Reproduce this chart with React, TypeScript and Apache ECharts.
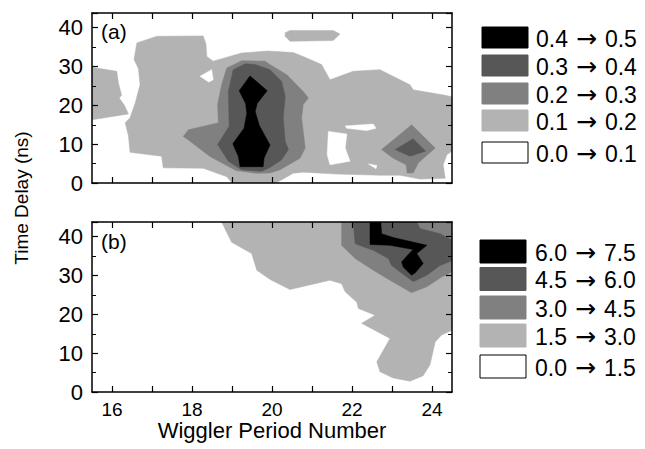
import React, { useEffect, useRef } from "react";
import * as echarts from "echarts";

// ---------- data ----------
const X_MIN = 15.5;
const X_MAX = 24.5;
const Y_MIN = 0;
const Y_MAX = 43.8;
const X_TICKS = [16, 17, 18, 19, 20, 21, 22, 23, 24];
const X_LABELS = [16, 18, 20, 22, 24];
const Y_LABELS = [0, 10, 20, 30, 40];

const LEVEL_COLORS = ["#ffffff", "#b3b3b3", "#808080", "#575757", "#000000"];

const LEGEND_A = ["0.4 \u2192 0.5", "0.3 \u2192 0.4", "0.2 \u2192 0.3", "0.1 \u2192 0.2", "0.0 \u2192 0.1"];
const LEGEND_B = ["6.0 \u2192 7.5", "4.5 \u2192 6.0", "3.0 \u2192 4.5", "1.5 \u2192 3.0", "0.0 \u2192 1.5"];
const LEGEND_LEVELS = [4, 3, 2, 1, 0];

// panel (a) contour polygons [wiggler period, time delay]
const A_L1_LEFT = [[15.5, 29.8], [16.12, 28.8], [16.16, 25.8], [16.24, 22.6], [16.18, 21.9], [16.31, 20.0], [16.41, 17.8], [15.5, 16.3]];
const A_L1_MAIN = [[16.62, 36.1], [17.12, 37.8], [18.28, 37.9], [18.35, 35.8], [18.37, 32.6], [18.53, 31.4], [19.24, 33.5], [19.9, 34.0], [20.53, 33.6], [20.78, 32.6], [21.24, 30.5], [21.45, 26.6], [22.03, 28.8], [22.7, 29.2], [23.45, 25.3], [23.53, 24.0], [24.33, 22.6], [24.5, 22.2], [24.5, 8.2], [24.37, 7.3], [24.28, 4.7], [24.33, 1.2], [23.7, 1.0], [23.2, 2.0], [22.7, 2.0], [21.62, 2.3], [20.78, 2.8], [20.53, 2.5], [20.1, 0], [19.0, 0], [18.87, 1.6], [18.28, 3.8], [17.28, 3.9], [17.24, 6.9], [16.45, 7.9], [16.41, 12.2], [16.33, 15.5], [16.45, 16.8], [16.58, 20.6], [16.7, 25.3], [16.66, 29.5], [16.55, 31.8]];
const A_L1_TOP = [[20.33, 38.7], [20.45, 39.3], [21.53, 39.3], [21.7, 38.4], [21.53, 36.7], [20.45, 36.5], [20.33, 37.8]];
const A_W1 = [[18.2, 27.5], [18.49, 29.2], [18.53, 26.6], [18.42, 26.0]];
const A_W2 = [[21.41, 13.3], [21.87, 12.6], [21.83, 9.0], [21.95, 5.6], [21.45, 4.7], [21.38, 7.3]];
const A_W3 = [[21.83, 14.7], [22.53, 15.2], [22.6, 14.1], [22.37, 13.5], [21.87, 14.1]];
const A_W4 = [[22.41, 4.9], [22.62, 4.5], [22.6, 3.7]];
const A_L2_PEAK = [[17.78, 12.0], [17.91, 13.7], [18.66, 15.5], [18.64, 20.2], [18.74, 25.3], [18.87, 29.6], [19.24, 31.5], [19.83, 31.4], [19.95, 30.5], [20.37, 27.9], [20.78, 23.6], [20.91, 21.9], [20.78, 20.2], [20.74, 16.8], [20.83, 9.0], [20.7, 6.4], [20.2, 3.4], [19.95, 2.6], [19.62, 2.5], [19.1, 3.2], [18.45, 6.8], [17.91, 11.1]];
const A_L2_SMALL = [[22.74, 8.6], [23.49, 15.0], [24.08, 9.0], [23.66, 5.2], [23.53, 2.6], [23.38, 2.6], [23.35, 4.7], [23.03, 6.4]];
const A_L3_PEAK = [[18.64, 9.9], [18.93, 14.6], [18.91, 23.6], [19.03, 29.2], [19.33, 30.7], [19.58, 30.5], [19.95, 29.2], [20.24, 26.2], [20.33, 22.3], [20.28, 16.8], [20.33, 10.7], [20.41, 8.6], [20.24, 6.0], [19.95, 4.0], [19.74, 3.0], [19.24, 3.4], [18.91, 5.6]];
const A_L3_SMALL = [[23.08, 8.6], [23.53, 11.4], [23.84, 8.2], [23.45, 6.9]];
const A_L4_PEAK = [[19.18, 23.8], [19.45, 27.6], [19.88, 23.8], [19.63, 20.5], [19.58, 18.4], [19.68, 14.9], [19.95, 9.8], [19.8, 6.4], [19.78, 4.2], [19.2, 4.2], [19.16, 6.8], [19.02, 10.1], [19.3, 14.1], [19.37, 18.0], [19.34, 20.5]];

// panel (b)
const B_L1 = [[18.74, 43.8], [18.99, 38.6], [19.49, 35.7], [19.62, 31.4], [19.95, 29.0], [20.45, 26.4], [21.45, 28.8], [21.74, 27.9], [21.83, 25.8], [22.12, 23.1], [22.16, 21.5], [22.58, 19.8], [22.24, 17.7], [22.95, 13.8], [22.62, 7.8], [22.7, 5.2], [23.03, 3.6], [23.45, 2.8], [23.78, 4.2], [23.95, 7.0], [24.08, 12.9], [24.24, 14.7], [24.5, 15.9], [24.5, 43.8]];
const B_L2 = [[21.74, 43.8], [21.74, 37.8], [22.08, 34.4], [22.53, 31.4], [22.95, 28.8], [23.49, 25.6], [23.87, 27.1], [24.24, 29.6], [24.5, 30.9], [24.5, 43.8]];
const B_L3 = [[22.03, 43.8], [22.08, 38.2], [22.53, 36.5], [22.91, 34.4], [22.99, 32.6], [23.53, 28.4], [23.87, 30.1], [24.2, 32.6], [24.5, 33.8], [24.5, 39.1], [24.2, 40.8], [23.7, 42.1], [23.62, 43.8]];
const B_L4 = [[22.45, 43.8], [22.72, 43.8], [22.74, 40.8], [23.03, 39.8], [23.87, 37.8], [23.62, 35.7], [23.78, 33.1], [23.58, 30.7], [23.49, 30.1], [23.28, 32.2], [23.24, 33.5], [23.43, 35.7], [23.53, 36.7], [22.95, 37.8], [22.45, 38.0]];

const PANEL_A = [
  { level: 1, pts: A_L1_LEFT },
  { level: 1, pts: A_L1_MAIN },
  { level: 1, pts: A_L1_TOP },
  { level: 0, pts: A_W1 },
  { level: 0, pts: A_W2 },
  { level: 0, pts: A_W3 },
  { level: 0, pts: A_W4 },
  { level: 2, pts: A_L2_PEAK },
  { level: 2, pts: A_L2_SMALL },
  { level: 3, pts: A_L3_PEAK },
  { level: 3, pts: A_L3_SMALL },
  { level: 4, pts: A_L4_PEAK },
];
const PANEL_B = [
  { level: 1, pts: B_L1 },
  { level: 2, pts: B_L2 },
  { level: 3, pts: B_L3 },
  { level: 4, pts: B_L4 },
];

const FONT = "Liberation Sans, Arial, Helvetica, sans-serif";

function contourSeries(polys: any[], axisIdx: number) {
  return {
    type: "custom",
    coordinateSystem: "cartesian2d",
    xAxisIndex: axisIdx,
    yAxisIndex: axisIdx,
    clip: true,
    silent: true,
    data: polys.map((p) => p.pts[0]),
    renderItem: (params: any, api: any) => {
      const poly = polys[params.dataIndex];
      const points = poly.pts.map((pt: number[]) => api.coord(pt));
      const c = LEVEL_COLORS[poly.level];
      return {
        type: "polygon",
        shape: { points },
        style: { fill: c, stroke: c, lineWidth: 0.5 },
      };
    },
  };
}

function xAxis(grid: number, pos: "top" | "bottom", labels: boolean) {
  return {
    type: "value",
    gridIndex: grid,
    position: pos,
    min: X_MIN,
    max: X_MAX,
    z: 10,
    splitLine: { show: false },
    axisLine: { show: true, onZero: false, lineStyle: { color: "#000", width: 1.5 } },
    axisTick: { show: true, inside: true, length: 6, customValues: X_TICKS, lineStyle: { color: "#000", width: 1.2 } },
    axisLabel: labels
      ? { show: true, customValues: X_LABELS, fontSize: 19, color: "#000", fontFamily: FONT, margin: 8 }
      : { show: false },
    ...(labels
      ? {
          name: "Wiggler Period Number",
          nameLocation: "middle",
          nameGap: 18,
          nameTextStyle: { fontSize: 22, color: "#000", fontFamily: FONT, verticalAlign: "top" },
        }
      : {}),
  };
}

function yAxis(grid: number, pos: "left" | "right", labels: boolean) {
  return {
    type: "value",
    gridIndex: grid,
    position: pos,
    min: Y_MIN,
    max: Y_MAX,
    interval: 10,
    z: 10,
    splitLine: { show: false },
    axisLine: { show: true, onZero: false, lineStyle: { color: "#000", width: 1.5 } },
    axisTick: { show: true, inside: true, length: 6, lineStyle: { color: "#000", width: 1.2 } },
    minorTick: { show: true, splitNumber: 2, length: 4, lineStyle: { color: "#000", width: 1 } },
    axisLabel: labels
      ? { show: true, customValues: Y_LABELS, fontSize: 22, color: "#000", fontFamily: FONT, margin: 9 }
      : { show: false },
  };
}

function legendGraphics(labels: string[], boxX: number, textX: number, tops: number[], h: number) {
  const els: any[] = [];
  labels.forEach((lab, i) => {
    const lvl = LEGEND_LEVELS[i];
    const parts = lab.split(" \u2192 ");
    els.push({
      type: "rect",
      shape: { x: boxX, y: tops[i], width: 46, height: h },
      style: { fill: LEVEL_COLORS[lvl], stroke: lvl === 0 ? "#000" : LEVEL_COLORS[lvl], lineWidth: 1 },
    });
    els.push({
      type: "text",
      style: {
        text: `{n|${parts[0]}}{a|\u2192}{n|${parts[1]}}`,
        x: textX,
        y: tops[i] + h / 2 + 1,
        fill: "#000",
        verticalAlign: "middle",
        textAlign: "left",
        rich: {
          n: { fontSize: 23, fontFamily: FONT, fill: "#000", verticalAlign: "middle" },
          a: { fontSize: 25, fontFamily: "DejaVu Sans", fill: "#000", verticalAlign: "middle", padding: [0, 8, 0, 8] },
        },
      },
    });
  });
  return els;
}

export default function App() {
  const ref = useRef<HTMLDivElement>(null);
  useEffect(() => {
    if (!ref.current) return;
    const chart = echarts.init(ref.current, null, { renderer: "svg" });
    chart.setOption({
      animation: false,
      backgroundColor: "#fff",
      grid: [
        { left: 92, top: 13, width: 360, height: 170 },
        { left: 92, top: 222, width: 360, height: 170 },
      ],
      xAxis: [xAxis(0, "bottom", false), xAxis(0, "top", false), xAxis(1, "bottom", true), xAxis(1, "top", false)],
      yAxis: [yAxis(0, "left", true), yAxis(0, "right", false), yAxis(1, "left", true), yAxis(1, "right", false)],
      series: [contourSeries(PANEL_A, 0), contourSeries(PANEL_B, 2)],
      graphic: [
        {
          type: "text",
          x: 21,
          y: 198,
          rotation: Math.PI / 2,
          style: { text: "Time Delay (ns)", font: `19px ${FONT}`, fill: "#000", textAlign: "center", verticalAlign: "middle" },
        },
        { type: "text", style: { text: "(a)", x: 101, y: 31, font: `21px ${FONT}`, fill: "#000", verticalAlign: "middle" }, z: 20 },
        { type: "text", style: { text: "(b)", x: 101, y: 241, font: `21px ${FONT}`, fill: "#000", verticalAlign: "middle" }, z: 20 },
        ...legendGraphics(LEGEND_A, 482, 536, [27, 55, 83, 110, 142], 21),
        ...legendGraphics(LEGEND_B, 480, 535, [240, 267.5, 296, 324, 355], 23),
      ],
    });
    return () => chart.dispose();
  }, []);
  return <div ref={ref} style={{ width: 645, height: 449, position: "absolute", left: 0, top: 0 }} />;
}
